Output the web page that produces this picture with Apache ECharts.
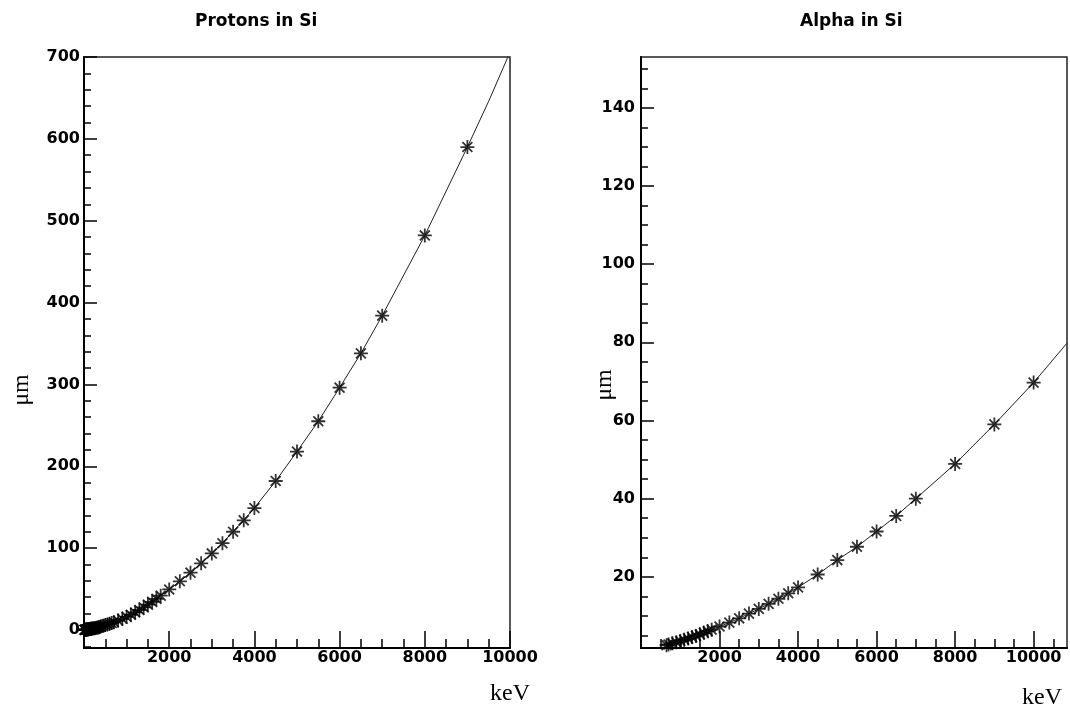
<!DOCTYPE html>
<html><head><meta charset="utf-8">
<script src="https://cdn.jsdelivr.net/npm/echarts@6/dist/echarts.min.js"></script>
<style>html,body{margin:0;padding:0;background:#fff}#c{width:1070px;height:714px}</style>
</head><body><div id="c"></div>
<script>
// ---- Protons in Si ----
const protonEnergy = [10,20,30,40,50,60,70,80,90,100,110,120,130,140,150,160,170,180,200,225,250,275,300,325,350,375,400,450,500,550,600,650,700,800,900,1000,1100,1200,1300,1400,1500,1600,1700,1800,2000,2250,2500,2750,3000,3250,3500,3750,4000,4500,5000,5500,6000,6500,7000,8000,9000];
const protonRange  = [0.12,0.23,0.33,0.42,0.50,0.58,0.66,0.74,0.82,0.90,0.98,1.06,1.15,1.23,1.32,1.41,1.50,1.59,1.78,2.02,2.28,2.55,2.83,3.12,3.42,3.73,4.5,5.2,6.0,6.8,7.6,8.5,9.5,11.5,13.7,16.0,18.6,21.4,24.4,27.6,30.9,34.4,38.1,41.9,49.5,59.5,70,81.5,93.5,106,120,134,149,182,218,255,296,338,384,482,590];
const protonCurveEndEnergy = [9500,10000];
const protonCurveEndRange  = [646,706];
// ---- Alpha in Si ----
const alphaEnergy = [650,700,800,900,1000,1100,1200,1300,1400,1500,1600,1700,1800,2000,2250,2500,2750,3000,3250,3500,3750,4000,4500,5000,5500,6000,6500,7000,8000,9000,10000];
const alphaRange  = [2.5,2.7,3.0,3.3,3.6,3.9,4.2,4.6,4.9,5.3,5.7,6.1,6.5,7.3,8.3,9.4,10.6,11.8,13.1,14.4,15.8,17.3,20.6,24.3,27.7,31.6,35.6,40.0,48.9,59.0,69.7];
const alphaCurveEndEnergy = [10850];
const alphaCurveEndRange  = [79.8];
// ---- tick values ----
const protonXTicks  = [0,2000,4000,6000,8000,10000];
const protonXLabels = [2000,4000,6000,8000,10000];
const protonXMinor  = [500,1000,1500,2500,3000,3500,4500,5000,5500,6500,7000,7500,8500,9000,9500];
const protonYTicks  = [0,100,200,300,400,500,600,700];
const protonYMinor  = [-20,20,40,60,80,120,140,160,180,220,240,260,280,320,340,360,380,420,440,460,480,520,540,560,580,620,640,660,680];
const alphaXTicks   = [2000,4000,6000,8000,10000];
const alphaXLabels  = [2000,4000,6000,8000,10000];
const alphaXMinor   = [500,1000,1500,2500,3000,3500,4500,5000,5500,6500,7000,7500,8500,9000,9500,10500];
const alphaYTicks   = [20,40,60,80,100,120,140];
const alphaYMinor   = [5,10,15,25,30,35,45,50,55,65,70,75,85,90,95,105,110,115,125,130,135,145,150];

const titles = ['Protons in Si','Alpha in Si'];
const xName = 'keV', yName = 'μm';

const STAR = 'path://M6 0L6 12M0 6L12 6M1.76 1.76L10.24 10.24M10.24 1.76L1.76 10.24';
const labelFont = {color:'#000', fontFamily:'DejaVu Sans', fontWeight:'bold', fontSize:16};
const nameFont = {color:'#000', fontFamily:'Liberation Serif', fontSize:24};

function zip(a,b){return a.map((v,i)=>[v,b[i]]);}

function mainX(grid,min,max,ticks,labels,nameGap,padTop){
  return {type:'value',gridIndex:grid,min,max,position:'bottom',
    axisLine:{show:true,onZero:false,lineStyle:{color:'#000',width:2}},
    axisTick:{show:true,inside:true,length:17,customValues:ticks,lineStyle:{color:'#000',width:1.5}},
    axisLabel:Object.assign({show:true,customValues:labels,margin:2,formatter:v=>String(v)},labelFont),
    splitLine:{show:false},
    name:xName,nameLocation:'end',nameGap,nameMoveOverlap:false,
    nameTextStyle:Object.assign({verticalAlign:'top',padding:[padTop,0,0,0]},nameFont)};
}
function minorX(grid,min,max,minor){
  return {type:'value',gridIndex:grid,min,max,position:'bottom',
    axisLine:{show:false,onZero:false},
    axisTick:{show:true,inside:true,length:9,customValues:minor,lineStyle:{color:'#000',width:1.5}},
    axisLabel:{show:false},splitLine:{show:false}};
}
function mainY(grid,min,max,ticks,margin,nameGap,padRight){
  return {type:'value',gridIndex:grid,min,max,position:'left',
    axisLine:{show:true,onZero:false,lineStyle:{color:'#000',width:2}},
    axisTick:{show:true,inside:true,length:13,customValues:ticks,lineStyle:{color:'#000',width:1.5}},
    axisLabel:Object.assign({show:true,customValues:ticks,margin,formatter:v=>String(v)},labelFont),
    splitLine:{show:false},
    name:yName,nameLocation:'middle',nameGap,nameMoveOverlap:false,
    nameTextStyle:Object.assign({padding:[0,padRight,0,0]},nameFont)};
}
function minorY(grid,min,max,minor){
  return {type:'value',gridIndex:grid,min,max,position:'left',
    axisLine:{show:false,onZero:false},
    axisTick:{show:true,inside:true,length:7,customValues:minor,lineStyle:{color:'#000',width:1.5}},
    axisLabel:{show:false},splitLine:{show:false}};
}
function markers(xi,yi,e,r){
  return {type:'scatter',xAxisIndex:xi,yAxisIndex:yi,data:zip(e,r),symbol:STAR,symbolSize:14,
    itemStyle:{color:'#000',borderColor:'#000',borderWidth:1.8},clip:true,z:4,silent:true};
}
function curve(xi,yi,e,r){
  return {type:'line',xAxisIndex:xi,yAxisIndex:yi,data:zip(e,r),symbol:'none',showSymbol:false,
    smooth:false,lineStyle:{color:'#222',width:1},clip:true,z:3,silent:true};
}

const chart = echarts.init(document.getElementById('c'),null,{renderer:'canvas'});
chart.setOption({
  backgroundColor:'#fff',
  animation:false,
  title:[
    {text:titles[0],left:195,top:13,padding:0,textStyle:{color:'#000',fontFamily:'DejaVu Sans',fontWeight:'bold',fontSize:17}},
    {text:titles[1],left:800,top:13,padding:0,textStyle:{color:'#000',fontFamily:'DejaVu Sans',fontWeight:'bold',fontSize:17}}
  ],
  grid:[
    {left:84,right:560,top:57,bottom:66,show:true,borderColor:'#222',borderWidth:1.5,backgroundColor:'transparent',outerBoundsMode:'none',containLabel:false},
    {left:641,right:3,top:57,bottom:66,show:true,borderColor:'#222',borderWidth:1.5,backgroundColor:'transparent',outerBoundsMode:'none',containLabel:false}
  ],
  xAxis:[
    mainX(0,0,10000,protonXTicks,protonXLabels,-20,34),
    minorX(0,0,10000,protonXMinor),
    mainX(1,0,10850,alphaXTicks,alphaXLabels,-45,38),
    minorX(1,0,10850,alphaXMinor)
  ],
  yAxis:[
    mainY(0,-22,700,protonYTicks,4,50,75),
    minorY(0,-22,700,protonYMinor),
    mainY(1,1.8,153,alphaYTicks,6,24,65),
    minorY(1,1.8,153,alphaYMinor)
  ],
  series:[
    curve(0,0,protonEnergy.concat(protonCurveEndEnergy),protonRange.concat(protonCurveEndRange)),
    markers(0,0,protonEnergy,protonRange),
    curve(2,2,alphaEnergy.concat(alphaCurveEndEnergy),alphaRange.concat(alphaCurveEndRange)),
    markers(2,2,alphaEnergy,alphaRange)
  ]
});
</script></body></html>
